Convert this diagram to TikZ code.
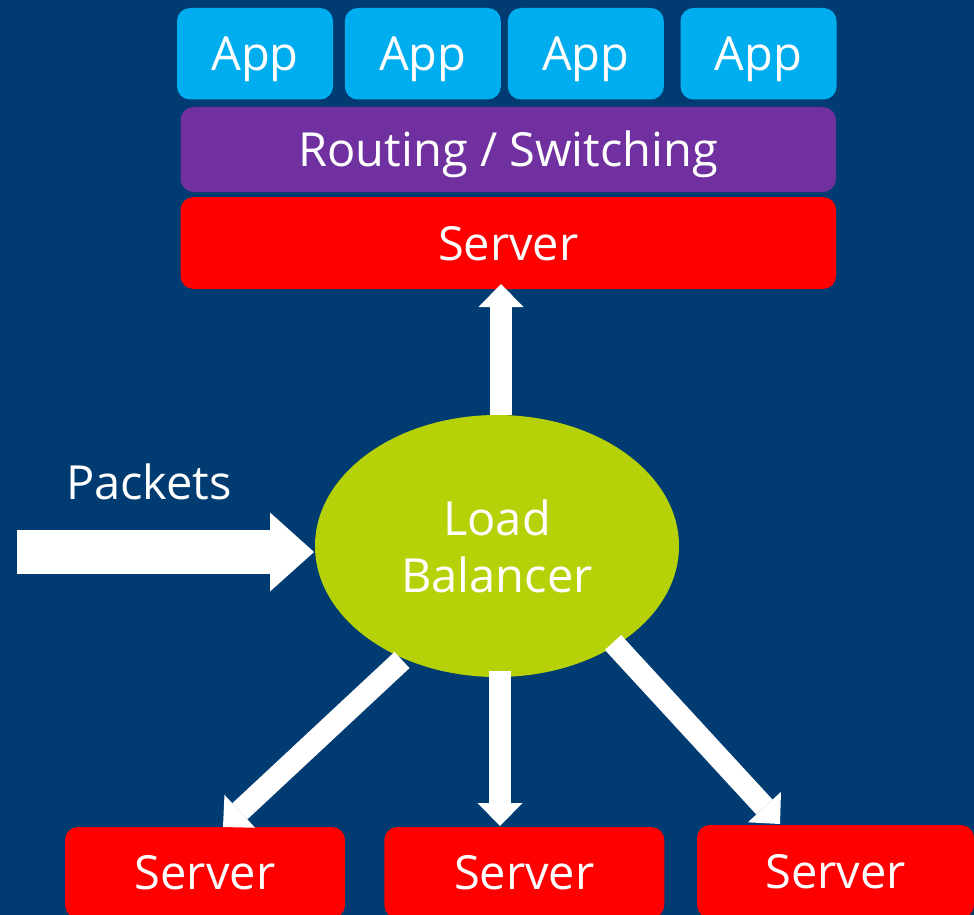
\documentclass[tikz,border=0pt]{standalone}
\usepackage{fontspec}
\setmainfont{Open Sans}
\usetikzlibrary{arrows.meta,shapes.geometric}
\definecolor{bg}{RGB}{0,60,113}
\definecolor{appblue}{RGB}{0,174,239}
\definecolor{routepurple}{RGB}{112,48,160}
\definecolor{srvred}{RGB}{255,0,0}
\definecolor{lbgreen}{RGB}{183,209,8}

\begin{document}
\begin{tikzpicture}[x=1pt,y=-1pt,
  label text/.style={text=white, font=\fontsize{47}{57}\selectfont},
  box/.style={label text, rectangle, rounded corners=13pt, inner sep=0pt,
    text height=34pt, text depth=0pt},
  app/.style={box, fill=appblue, minimum width=156pt, minimum height=91.5pt},
  layer/.style={box, minimum width=655.5pt},
  server/.style={box, fill=srvred, minimum width=280pt, minimum height=91pt},
  flow/.style={draw=white, line width=22pt,
    -{Triangle[width=45pt,length=23pt,line width=0pt]}},
  inflow/.style={draw=white, line width=44pt,
    -{Triangle[width=79pt,length=44pt,line width=0pt]}},
]
\useasboundingbox (0,0) rectangle (974,915);
\clip (0,0) rectangle (974,915);
\fill[bg] (0,0) rectangle (974,915);

% application stack
\node[app] (app1) at (255,53.75) {App};
\node[app] (app2) at (422.8,53.75) {App};
\node[app] (app3) at (585.8,53.75) {App};
\node[app] (app4) at (758.5,53.75) {App};
\node[layer, fill=routepurple, minimum height=85pt] (route) at (508.25,149.5) {Routing / Switching};
\node[layer, fill=srvred, minimum height=92pt] (topsrv) at (508.25,243) {Server};

% back-end servers
\node[server] (srv1) at (205,872.5) {Server};
\node[server] (srv2) at (524.3,872.5) {Server};
\node[server, minimum width=277pt, minimum height=93pt] (srv3) at (835.5,871.5) {Server};

% load balancer
\node[ellipse, fill=lbgreen, minimum width=364pt, minimum height=262pt, inner sep=0pt,
  label text, align=center] (lb) at (497,546) {Load\\Balancer};

% incoming traffic
\node[label text, anchor=base] (pk) at (149,499) {Packets};
\coordinate (pk-tail) at (17,552);
\coordinate (pk-tip) at (314,552);
\draw[inflow] (pk-tail) -- (pk-tip);

% connector end points
\coordinate (up-tail) at (501,415);
\coordinate (up-tip) at (501,284);
\coordinate (l-tail) at (402,660);
\coordinate (l-tip) at (223,827);
\coordinate (m-tail) at (500,671);
\coordinate (m-tip) at (500,826);
\coordinate (r-tail) at (613,642.5);
\coordinate (r-tip) at (780,824);

\draw[flow] (up-tail) -- (up-tip);
\draw[flow] (l-tail) -- (l-tip);
\draw[flow] (m-tail) -- (m-tip);
\draw[flow] (r-tail) -- (r-tip);
\end{tikzpicture}
\end{document}
